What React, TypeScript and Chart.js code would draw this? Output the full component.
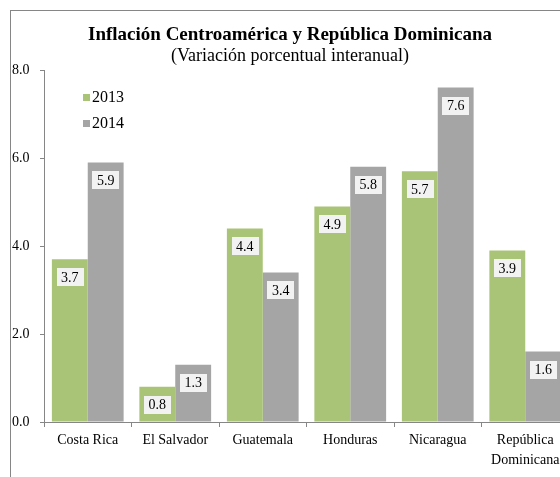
import React, { useEffect, useRef } from "react";
import { Chart, registerables } from "chart.js";

Chart.register(...registerables);

const categories: (string | string[])[] = [
  "Costa Rica",
  "El Salvador",
  "Guatemala",
  "Honduras",
  "Nicaragua",
  ["República", "Dominicana"],
];
const series2013 = [3.7, 0.8, 4.4, 4.9, 5.7, 3.9];
const series2014 = [5.9, 1.3, 3.4, 5.8, 7.6, 1.6];
const seriesLabels = ["2013", "2014"];
const yTicks = [0, 2, 4, 6, 8];
const titleText = "Inflación Centroamérica y República Dominicana";
const subtitleText = "(Variación porcentual interanual)";

const GREEN = "#A9C476";
const GREY = "#A5A5A5";
const AXIS = "#868686";
const FONT = "'Liberation Serif', 'Times New Roman', serif";

const overlay = {
  id: "overlay",
  beforeDraw(chart: any) {
    const { ctx, width, height } = chart;
    ctx.save();
    ctx.fillStyle = "#ffffff";
    ctx.fillRect(0, 0, width, height);
    ctx.restore();
  },
  afterDatasetsDraw(chart: any) {
    const { ctx } = chart;
    ctx.save();
    ctx.font = `14px ${FONT}`;
    ctx.textAlign = "center";
    ctx.textBaseline = "middle";
    chart.data.datasets.forEach((ds: any, di: number) => {
      const meta = chart.getDatasetMeta(di);
      meta.data.forEach((el: any, i: number) => {
        const txt = Number(ds.data[i]).toFixed(1);
        const w = ctx.measureText(txt).width + 9;
        const h = 18;
        const cx = el.x;
        const cy = el.y + 18;
        ctx.fillStyle = "#F2F2F2";
        ctx.fillRect(Math.round(cx - w / 2), Math.round(cy - h / 2), Math.round(w), h);
        ctx.fillStyle = "#000000";
        ctx.fillText(txt, cx, cy + 1);
      });
    });
    ctx.restore();
  },
  afterDraw(chart: any) {
    const { ctx, width, height } = chart;
    ctx.save();
    // outer border
    ctx.strokeStyle = AXIS;
    ctx.lineWidth = 1;
    ctx.strokeRect(0.5, 0.5, width - 1, height - 1);
    // titles
    ctx.fillStyle = "#000000";
    ctx.textAlign = "center";
    ctx.textBaseline = "middle";
    ctx.font = `bold 19px ${FONT}`;
    ctx.fillText(titleText, width / 2, 25);
    ctx.font = `18px ${FONT}`;
    ctx.fillText(subtitleText, width / 2, 46);
    // legend
    ctx.font = `16px ${FONT}`;
    ctx.textAlign = "left";
    chart.data.datasets.forEach((ds: any, di: number) => {
      const y = 87 + di * 26;
      ctx.fillStyle = ds.backgroundColor;
      ctx.fillRect(73, y - 3, 7, 7);
      ctx.fillStyle = "#000000";
      ctx.fillText(ds.label, 82, y + 1);
    });
    ctx.restore();
  },
};

export default function App() {
  const ref = useRef<HTMLCanvasElement | null>(null);
  useEffect(() => {
    if (!ref.current) return;
    const chart = new Chart(ref.current, {
      type: "bar",
      data: {
        labels: categories as any,
        datasets: [
          {
            label: seriesLabels[0],
            data: series2013,
            backgroundColor: GREEN,
            categoryPercentage: 0.82,
            barPercentage: 1.0,
          },
          {
            label: seriesLabels[1],
            data: series2014,
            backgroundColor: GREY,
            categoryPercentage: 0.82,
            barPercentage: 1.0,
          },
        ],
      },
      options: {
        responsive: false,
        animation: false,
        devicePixelRatio: 1,
        layout: { padding: { left: 2, top: 60, right: 1, bottom: 8 } },
        plugins: {
          legend: { display: false },
          title: { display: false },
          tooltip: { enabled: false },
        },
        scales: {
          x: {
            grid: {
              display: true,
              drawOnChartArea: false,
              drawTicks: true,
              tickLength: 5,
              offset: true,
              color: AXIS,
            },
            border: { display: true, color: AXIS },
            ticks: {
              autoSkip: false,
              maxRotation: 0,
              minRotation: 0,
              padding: 4,
              color: "#000000",
              font: { family: FONT, size: 14, lineHeight: 1.4 },
            },
            afterFit: (s: any) => {
              s.height = 60;
            },
          },
          y: {
            min: yTicks[0],
            max: yTicks[yTicks.length - 1],
            afterBuildTicks: (s: any) => {
              s.ticks = yTicks.map((v) => ({ value: v }));
            },
            grid: {
              display: true,
              drawOnChartArea: false,
              drawTicks: true,
              tickLength: 4,
              color: AXIS,
            },
            border: { display: true, color: AXIS },
            ticks: {
              crossAlign: "far",
              color: "#000000",
              font: { family: FONT, size: 14 },
              callback: (v: any) => Number(v).toFixed(1),
            },
            afterFit: (s: any) => {
              s.width = 32;
            },
          },
        },
      },
      plugins: [overlay],
    });
    return () => chart.destroy();
  }, []);

  return (
    <div
      style={{
        position: "fixed",
        left: 0,
        top: 0,
        width: 560,
        height: 477,
        overflow: "hidden",
        background: "#ffffff",
      }}
    >
      <canvas
        ref={ref}
        width={560}
        height={480}
        style={{ position: "absolute", left: 10, top: 10, display: "block", width: 560, height: 480 }}
      />
    </div>
  );
}
